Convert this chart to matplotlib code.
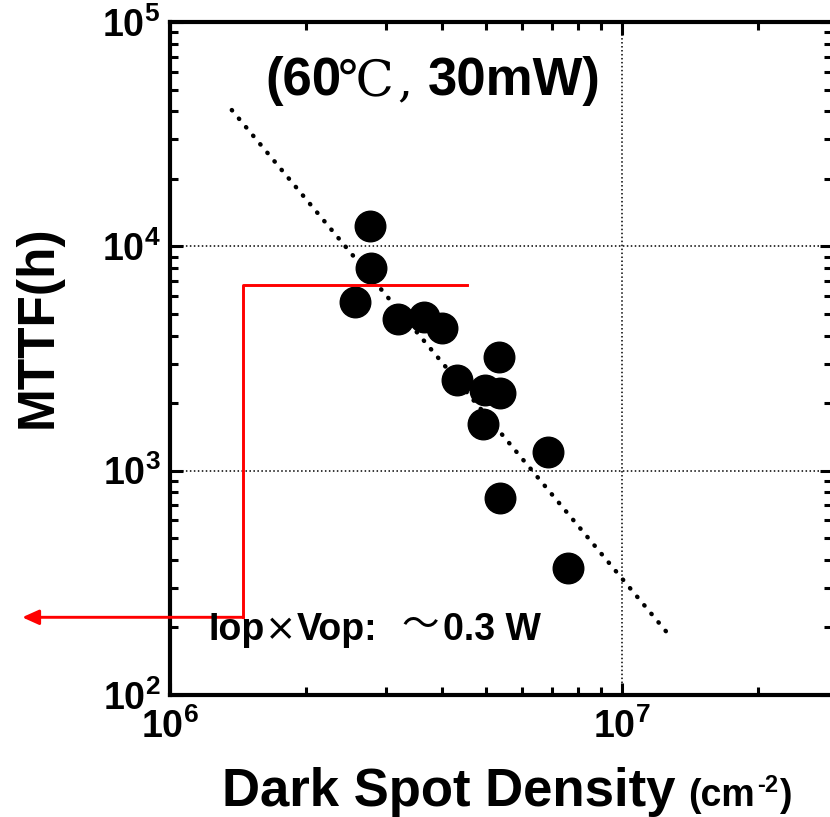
import matplotlib
matplotlib.use("Agg")
import matplotlib.pyplot as plt
import numpy as np
from matplotlib.ticker import FuncFormatter, LogLocator

plt.rcParams["font.family"] = ["Liberation Sans", "Noto Sans CJK JP", "DejaVu Sans"]
plt.rcParams["mathtext.fontset"] = "custom"
plt.rcParams["mathtext.rm"] = "Liberation Sans"
plt.rcParams["mathtext.bf"] = "Liberation Sans:bold"

# dark spot density (cm^-2) and MTTF (h)
density = np.array([2.77e6, 2.79e6, 2.57e6, 3.20e6, 3.65e6, 4.00e6, 4.31e6,
                    5.34e6, 4.98e6, 5.37e6, 4.93e6, 6.87e6, 5.37e6, 7.61e6])
mttf = np.array([12300, 8030, 5650, 4740, 4850, 4320, 2530,
                 3220, 2290, 2220, 1610, 1210, 757, 369])

# dotted trend line end points
fit_x = [1.37e6, 1.26e7]
fit_y = [40500, 189]

# red guide path and arrow
guide_x = [4.54e6, 1.45e6, 1.45e6]
guide_y = [6720, 6720, 222]
arrow_end = (4.71e5, 222)

W, H = 830, 817
fig = plt.figure(figsize=(W / 100, H / 100), dpi=100)
ax = fig.add_axes([170 / W, 1 - 695 / H, 662 / W, 673 / H])

ax.set_xscale("log")
ax.set_yscale("log")
ax.set_xlim(1e6, 10 ** (6 + 662 / 452))
ax.set_ylim(1e2, 1e5)

ax.grid(True, which="major", color="black", linestyle=(0, (1, 1.6)), linewidth=1.1)

ax.plot(fit_x, fit_y, color="black", linestyle=(0, (0.1, 2.4)), linewidth=3.2,
        dash_capstyle="round", zorder=2)
ax.plot(density, mttf, "o", color="black", markersize=22, zorder=3)

ax.plot(guide_x, guide_y, color="#ff0000", linewidth=2.1, clip_on=False, zorder=4)
ax.annotate("", xy=arrow_end, xytext=(guide_x[-1], guide_y[-1]),
            arrowprops=dict(arrowstyle="-|>,head_length=1.0,head_width=0.45",
                            color="#ff0000", lw=2.1, shrinkA=0, shrinkB=0),
            annotation_clip=False, zorder=4)

for s in ax.spines.values():
    s.set_linewidth(3.0)

ax.xaxis.set_major_locator(LogLocator(base=10, numticks=10))
ax.yaxis.set_major_locator(LogLocator(base=10, numticks=10))
ax.xaxis.set_minor_locator(LogLocator(base=10, subs=np.arange(2, 10), numticks=20))
ax.yaxis.set_minor_locator(LogLocator(base=10, subs=np.arange(2, 10), numticks=20))
fmt = FuncFormatter(lambda v, p: r"$\mathbf{10^{%d}}$" % round(np.log10(v)))
ax.xaxis.set_major_formatter(fmt)
ax.yaxis.set_major_formatter(fmt)
ax.tick_params(which="both", direction="in", top=True, right=True, width=2.2)
ax.tick_params(which="major", length=9, labelsize=27)
ax.tick_params(which="minor", length=6)
ax.tick_params(axis="x", which="major", pad=10)
ax.tick_params(axis="y", which="major", pad=7)


def fy(py):
    return 1 - py / H


# title pieces
fig.text(265 / W, fy(95), "(60", fontsize=38, fontweight="bold", va="baseline")
fig.text(338 / W, fy(95), "℃", fontsize=36, family=["DejaVu Serif", "Noto Sans CJK JP"],
         fontweight="light", va="baseline")
fig.text(397 / W, fy(95), ",", fontsize=34, family=["DejaVu Serif"], va="baseline")
fig.text(428 / W, fy(95), "30mW)", fontsize=38, fontweight="bold", va="baseline")

# operating power note
fig.text(208 / W, fy(640), "Iop", fontsize=27, fontweight="bold", va="baseline")
fig.text(281 / W, fy(640), "×", fontsize=27, family=["DejaVu Sans"], ha="center", va="baseline")
fig.text(297 / W, fy(640), "Vop:", fontsize=27, fontweight="bold", va="baseline")
fig.text(420 / W, fy(636), "～", fontsize=27, family=["Noto Sans CJK JP"], ha="center", va="baseline")
fig.text(443 / W, fy(640), "0.3 W", fontsize=27, fontweight="bold", va="baseline")

# axis labels
fig.text(222 / W, fy(806), "Dark Spot Density", fontsize=38, fontweight="bold", va="baseline")
fig.text(688 / W, fy(806), "(cm", fontsize=27, fontweight="bold", va="baseline")
fig.text(757 / W, fy(792), "-2", fontsize=17, fontweight="bold", va="baseline")
fig.text(779 / W, fy(806), ")", fontsize=27, fontweight="bold", va="baseline")
fig.text(38 / W, fy(327), "MTTF(h)", fontsize=37, fontweight="bold", rotation=90,
         ha="center", va="center")

fig.savefig("out.png", dpi=100)
